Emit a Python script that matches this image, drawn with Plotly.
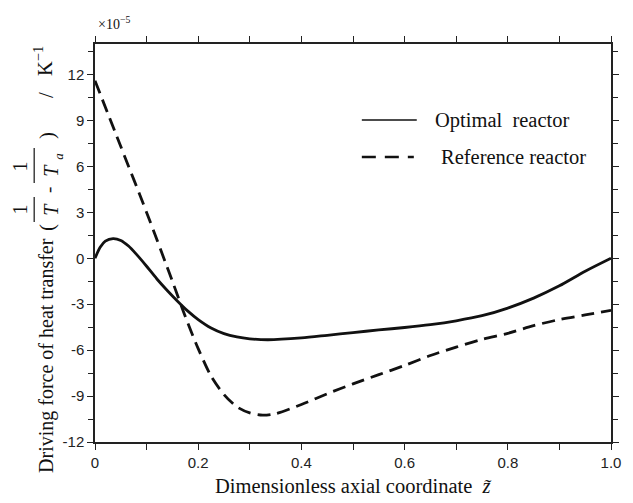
import plotly.graph_objects as go

# Axial position (dimensionless) and driving force (units of 1e-5 K^-1)
z_optimal = [0.0, 0.01, 0.02, 0.035, 0.05, 0.065, 0.08, 0.1, 0.12, 0.14, 0.16,
             0.18, 0.2, 0.225, 0.25, 0.275, 0.3, 0.335, 0.4, 0.45, 0.5, 0.55, 0.6,
             0.65, 0.7, 0.75, 0.8, 0.85, 0.9, 0.95, 1.0]
f_optimal = [0.0, 0.72, 1.12, 1.29, 1.17, 0.8, 0.27, -0.52, -1.35, -2.1, -2.8,
             -3.45, -4.0, -4.55, -4.92, -5.14, -5.26, -5.32, -5.2, -5.03, -4.85, -4.68, -4.52,
             -4.33, -4.08, -3.75, -3.25, -2.6, -1.8, -0.85, 0.0]

z_reference = [0.0, 0.05, 0.1, 0.15, 0.175, 0.2, 0.225, 0.25, 0.275, 0.3, 0.325,
               0.35, 0.4, 0.45, 0.5, 0.55, 0.6, 0.65, 0.7, 0.75, 0.8, 0.85,
               0.9, 0.95, 1.0]
f_reference = [11.6, 7.3, 3.0, -1.5, -3.8, -5.9, -7.7, -8.9, -9.7, -10.1, -10.25,
               -10.15, -9.55, -8.85, -8.2, -7.6, -7.0, -6.35, -5.8, -5.3, -4.9, -4.4,
               -4.0, -3.7, -3.4]

x_tickvals = [0, 0.2, 0.4, 0.6, 0.8, 1.0]
x_ticktext = ["0", "0.2", "0.4", "0.6", "0.8", "1.0"]
y_tickvals = [-12, -9, -6, -3, 0, 3, 6, 9, 12]
y_ticktext = ["-12", "-9", "-6", "-3", "0", "3", "6", "9", "12"]

series_names = ["Optimal  reactor", "Reference reactor"]

SERIF = "Liberation Serif, Times New Roman, serif"
SANS = "Liberation Sans, Arial, sans-serif"
INK = "#111111"

# Figure geometry in pixels (used for placing text around the plot frame)
W, H = 633, 503
L, R, T, B = 95, 12, 44, 61
PW, PH = W - L - R, H - T - B


def px(x):
    return (x - L) / PW


def py(y):
    return (H - B - y) / PH


fig = go.Figure()
fig.add_trace(go.Scatter(
    x=z_optimal, y=f_optimal, mode="lines", name=series_names[0],
    line=dict(color=INK, width=2.8, shape="spline", smoothing=0.8),
))
fig.add_trace(go.Scatter(
    x=z_reference, y=f_reference, mode="lines", name=series_names[1],
    line=dict(color=INK, width=2.8, dash="13px,7px", shape="spline", smoothing=0.8),
))

axis_common = dict(
    showgrid=False, zeroline=False, showline=True, linecolor="#222222", linewidth=1.5,
    mirror="allticks", ticks="outside", ticklen=6, tickwidth=1.3, tickcolor="#222222",
    tickfont=dict(family=SANS, size=15, color="#222222"),
)

fig.update_xaxes(
    range=[0, 1], tickmode="array", tickvals=x_tickvals, ticktext=x_ticktext,
    minor=dict(dtick=0.1, tick0=0, ticks="outside", ticklen=6, tickwidth=1.3,
               tickcolor="#222222"),
    **axis_common,
)
fig.update_yaxes(
    range=[-12, 14], tickmode="array", tickvals=y_tickvals, ticktext=y_ticktext,
    minor=dict(dtick=1.5, tick0=0, ticks="outside", ticklen=5, tickwidth=1.3,
               tickcolor="#222222"),
    **axis_common,
)

annotations = []
shapes = []


def text(x, y, s, size=20, angle=0, family=SERIF, xanchor="center", yanchor="middle"):
    annotations.append(dict(
        x=px(x), y=py(y), xref="paper", yref="paper", text=s, showarrow=False,
        textangle=angle, xanchor=xanchor, yanchor=yanchor,
        font=dict(family=family, size=size, color=INK),
    ))


def bar(x, y0, y1):
    shapes.append(dict(type="line", xref="paper", yref="paper",
                       x0=px(x), x1=px(x), y0=py(y0), y1=py(y1),
                       line=dict(color=INK, width=1.2)))


# Scale multiplier
text(96, 23, "×10<sup>−5</sup>", size=14, xanchor="left")

# X axis title
text(358, 486, "Dimensionless axial coordinate  <i>z\u0303</i>", size=20.5)

# Y axis title, built from rotated pieces so the fractions stack
text(45, 355, "Driving force of heat transfer", size=20, angle=-90)
text(46, 227, "(", size=21, angle=-90)
text(19, 209, "1", size=20, angle=-90)
text(50, 209, "<i>T</i>", size=20, angle=-90)
bar(33, 197, 222)
text(47, 190, "-", size=19, angle=-90)
text(19, 166, "1", size=20, angle=-90)
text(50, 170, "<i>T</i>", size=20, angle=-90)
text(57, 156, "<i>a</i>", size=13, angle=-90)
bar(33, 148, 183)
text(46, 135, ")", size=21, angle=-90)
text(45, 95, "/", size=20.5, angle=-90)
text(42, 61, "K<sup>−1</sup>", size=20.5, angle=-90)

# Legend
shapes.append(dict(type="line", xref="paper", yref="paper",
                   x0=px(367), x1=px(423), y0=py(120), y1=py(120),
                   line=dict(color=INK, width=1.4)))
text(440, 120, series_names[0], size=20.5, xanchor="left")
shapes.append(dict(type="line", xref="paper", yref="paper",
                   x0=px(367), x1=px(420), y0=py(157), y1=py(157),
                   line=dict(color=INK, width=2.7, dash="14px,9px")))
text(446, 157, series_names[1], size=20.5, xanchor="left")

fig.update_layout(
    width=W, height=H,
    margin=dict(l=L, r=R, t=T, b=B),
    paper_bgcolor="white", plot_bgcolor="white",
    showlegend=False,
    annotations=annotations,
    shapes=shapes,
)

fig.write_html("out.html")
